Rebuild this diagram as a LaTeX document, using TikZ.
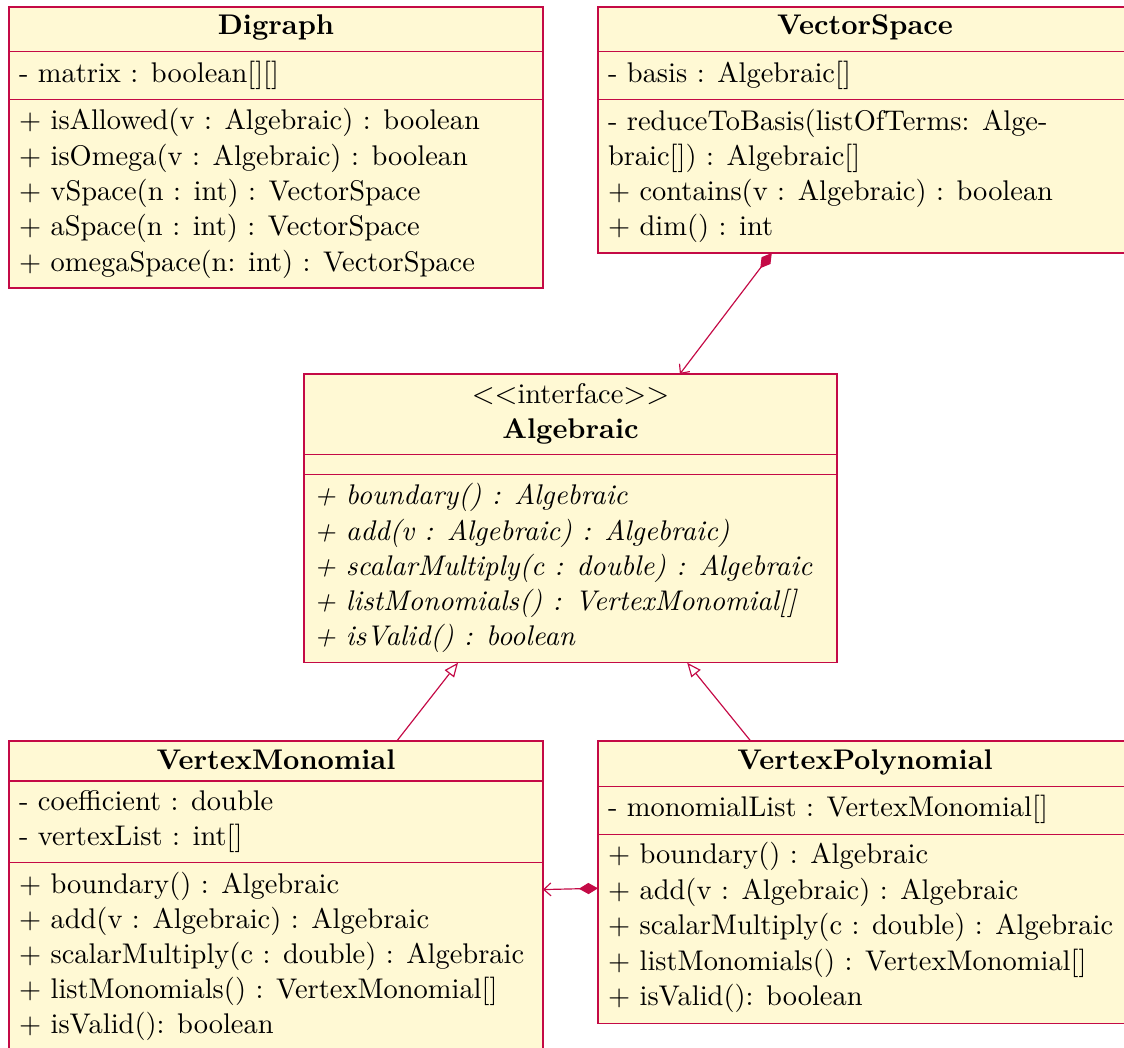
\documentclass[tikz,border=0pt]{standalone}
\usetikzlibrary{arrows.meta}
\definecolor{umlfill}{RGB}{255,249,212}
\definecolor{umlline}{RGB}{196,10,70}
\begin{document}
\begin{tikzpicture}[x=0.34pt,y=-0.34pt,
  every node/.style={font=\fontsize{9.67pt}{11.6pt}\selectfont},
  classbox/.style={rectangle,draw=umlline,fill=umlfill,line width=0.4pt,inner sep=0pt,outer sep=0pt,minimum width=181.56pt},
  sepline/.style={draw=umlline,line width=0.4pt},
  member/.style={anchor=base west,inner sep=0pt,outer sep=0pt},
  ctitle/.style={anchor=base,inner sep=0pt,outer sep=0pt,font=\fontsize{9.67pt}{11.6pt}\selectfont\bfseries},
  stereo/.style={anchor=base,inner sep=0pt,outer sep=0pt},
  abstractop/.style={member,font=\fontsize{9.67pt}{11.6pt}\selectfont\itshape},
  compose/.style={draw=umlline,line width=0.4pt,{Diamond[length=6.5pt,width=3.8pt,fill=umlline]}-{Straight Barb[length=2.4pt,width=4.4pt]}},
  inherit/.style={draw=umlline,line width=0.4pt,-{Triangle[open,length=4.8pt,width=4pt,fill=white]}}
]
\path[use as bounding box] (0,0) rectangle (1124,1048);
\clip (0,0) rectangle (1124,1048);

% ---------- Digraph ----------
\node[classbox,minimum height={281*0.34pt}] (dig) at (276,147.5) {};
\path[sepline] (9,51.5) -- (543,51.5);
\path[sepline] (9,99.5) -- (543,99.5);
\node[ctitle] (digT) at (276,35) {Digraph};
\node[member] (digA1) at (19,83) {- matrix : boolean[][]};
\node[member] (digO1) at (19,130) {+ isAllowed(v : Algebraic) : boolean};
\node[member] (digO2) at (19,165.5) {+ isOmega(v : Algebraic) : boolean};
\node[member] (digO3) at (19,201) {+ vSpace(n : int) : VectorSpace};
\node[member] (digO4) at (19,236) {+ aSpace(n : int) : VectorSpace};
\node[member] (digO5) at (19,271.5) {+ omegaSpace(n: int) : VectorSpace};

% ---------- VectorSpace ----------
\node[classbox,minimum height={246*0.34pt}] (vs) at (865,130) {};
\path[sepline] (598,51.7) -- (1132,51.7);
\path[sepline] (598,99.3) -- (1132,99.3);
\node[ctitle] (vsT) at (865,35) {VectorSpace};
\node[member] (vsA1) at (608,83) {- basis : Algebraic[]};
\node[member] (vsO1) at (608,130.7) {- reduceToBasis(listOfTerms: Alge-};
\node[member] (vsO1b) at (608,165.7) {braic[]) : Algebraic[]};
\node[member] (vsO2) at (608,201) {+ contains(v : Algebraic) : boolean};
\node[member] (vsO3) at (608,236) {+ dim() : int};

% ---------- Algebraic ----------
\node[classbox,minimum width={533*0.34pt},minimum height={288.7*0.34pt}] (alg) at (570.5,518.35) {};
\path[sepline] (304,454.3) -- (837,454.3);
\path[sepline] (304,474.3) -- (837,474.3);
\node[stereo] (algS) at (570.5,404) {$<<$interface$>>$};
\node[ctitle] (algT) at (570.5,439) {Algebraic};
\node[abstractop] (algO1) at (314,505) {+ boundary() : Algebraic};
\node[abstractop] (algO2) at (314,540.7) {+ add(v : Algebraic) : Algebraic)};
\node[abstractop] (algO3) at (314,575.7) {+ scalarMultiply(c : double) : Algebraic};
\node[abstractop] (algO4) at (314,610.7) {+ listMonomials() : VertexMonomial[]};
\node[abstractop] (algO5) at (314,645.7) {+ isValid() : boolean};

% ---------- VertexMonomial ----------
\node[classbox,minimum height={309.5*0.34pt}] (vm) at (276,895.75) {};
\path[sepline] (9,781) -- (543,781);
\path[sepline] (9,862.7) -- (543,862.7);
\node[ctitle] (vmT) at (276,770) {VertexMonomial};
\node[member] (vmA1) at (19,811) {- coefficient : double};
\node[member] (vmA2) at (19,845.7) {- vertexList : int[]};
\node[member] (vmO1) at (19,893.3) {+ boundary() : Algebraic};
\node[member] (vmO2) at (19,928.3) {+ add(v : Algebraic) : Algebraic};
\node[member] (vmO3) at (19,964) {+ scalarMultiply(c : double) : Algebraic};
\node[member] (vmO4) at (19,999) {+ listMonomials() : VertexMonomial[]};
\node[member] (vmO5) at (19,1034) {+ isValid(): boolean};

% ---------- VertexPolynomial ----------
\node[classbox,minimum height={282.3*0.34pt}] (vp) at (865,882.15) {};
\path[sepline] (598,786.7) -- (1132,786.7);
\path[sepline] (598,834.3) -- (1132,834.3);
\node[ctitle] (vpT) at (865,770) {VertexPolynomial};
\node[member] (vpA1) at (608,816.7) {- monomialList : VertexMonomial[]};
\node[member] (vpO1) at (608,864) {+ boundary() : Algebraic};
\node[member] (vpO2) at (608,899.3) {+ add(v : Algebraic) : Algebraic};
\node[member] (vpO3) at (608,935) {+ scalarMultiply(c : double) : Algebraic};
\node[member] (vpO4) at (608,970.7) {+ listMonomials() : VertexMonomial[]};
\node[member] (vpO5) at (608,1005.7) {+ isValid(): boolean};

% ---------- connectors ----------
\draw[compose] (vs) -- (alg);
\draw[inherit] (vm) -- (alg);
\draw[inherit] (vp) -- (alg);
\draw[compose] (vp) -- (vm);
\end{tikzpicture}
\end{document}
